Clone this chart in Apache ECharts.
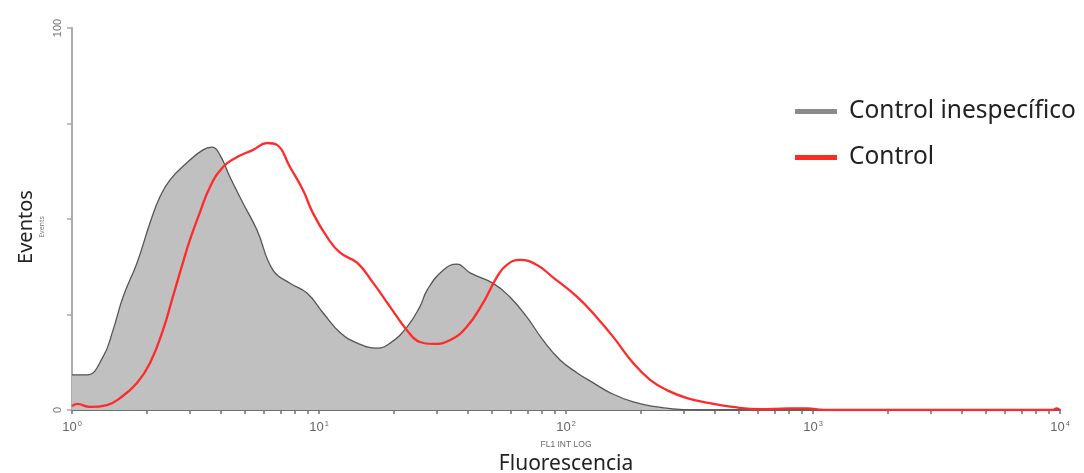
<!DOCTYPE html>
<html>
<head>
<meta charset="utf-8">
<script src="https://cdn.jsdelivr.net/npm/echarts@6/dist/echarts.min.js"></script>
<style>
  html, body { margin: 0; padding: 0; background: #fff; }
  #chart { width: 1084px; height: 473px; }
</style>
</head>
<body>
<div id="chart"></div>
<script>
// Fluorescence histogram (FL1, log scale) — events per channel
const seriesNames = ['Control inespecífico', 'Control'];

// Non-specific control: fluorescence values and event counts
const inespFluor = [1, 1.15, 1.335, 1.466, 1.609, 1.833, 2.07, 2.27, 2.49, 2.92, 3.39, 3.69, 3.97, 4.36, 4.92,
  5.61, 6.51, 7.63, 8.94, 10.4, 12.2, 14.3, 17.2, 19.4, 22.7, 25.6, 27.4, 31.8, 36.2, 40.9, 50.6, 59.3, 69.5,
  80.7, 94.6, 111, 129, 151, 187, 234, 298, 500, 1000, 10000];
const inespCounts = [9.2, 9.2, 13.9, 20.9, 29.6, 38.5, 49, 55.8, 60.2, 64.7, 68.1, 68.8, 66.8, 61, 54.2,
  47.1, 36.6, 33.2, 30.6, 25.4, 20.2, 17.5, 16.2, 17.5, 21.7, 27, 31.4, 36.6, 38.2, 35.9, 33.2, 29.6, 24.3,
  18.3, 13.1, 9.7, 7.1, 4.5, 2.1, 0.8, 0.1, 0, 0, 0];

// Control: fluorescence values and event counts
const ctrlFluor = [1, 1.048, 1.18, 1.386, 1.564, 1.833, 2.07, 2.335, 2.56, 2.81, 3.0, 3.29, 3.62, 4.09, 4.66,
  5.41, 6.16, 6.76, 7.63, 8.61, 9.44, 10.77, 12.2, 14.3, 16.6, 19.4, 22.7, 25.6, 29, 34, 39.6, 46.1, 52.5,
  57.6, 65.1, 76, 88.3, 111, 133, 155, 187, 219, 256, 309, 381, 472, 610, 800, 950, 1100, 2000, 5000,
  9300, 9700, 10000];
const ctrlCounts = [1, 1.6, 0.8, 1.3, 3.1, 7.1, 12.3, 20.9, 29.6, 38.5, 44.5, 51.6, 58.4, 63.6, 66.2,
  68.1, 69.9, 69.4, 63.6, 57.6, 51.6, 45.3, 41.1, 38.5, 33.2, 27, 20.9, 17.8, 17.3, 18.3, 21.7, 28, 34.8,
  38, 39.3, 38, 34.8, 29.6, 24.3, 19.2, 12.3, 7.9, 5.2, 3.1, 1.8, 0.8, 0.2, 0.4, 0.4, 0, 0, 0,
  0, 0.4, 0];

// Axis tick values
const xMajorTicks = [1, 10, 100, 1000, 10000];
const xMinorTicks = [];
xMajorTicks.slice(0, -1).forEach(d => { for (let m = 1; m <= 9; m++) xMinorTicks.push(m * d); });
xMinorTicks.push(10000);
const yTicks = [0, 25, 50, 75, 100];
const yLabels = [0, 100];

const pairs = (xs, ys) => xs.map((x, i) => [x, ys[i]]);

const chart = echarts.init(document.getElementById('chart'));
chart.setOption({
  animation: false,
  backgroundColor: '#fff',
  textStyle: { fontFamily: 'Noto Sans' },
  grid: { left: 72, right: 24, top: 28, bottom: 63, containLabel: false, outerBoundsMode: 'none' },
  legend: {
    orient: 'vertical',
    left: 790,
    top: 94,
    itemWidth: 42,
    itemHeight: 5,
    itemGap: 21,
    icon: 'rect',
    textStyle: { fontSize: 24.5, color: '#222', fontFamily: 'Noto Sans', padding: [0, 0, 0, 7] },
    data: [
      { name: seriesNames[0], itemStyle: { color: '#8a8a8a' } },
      { name: seriesNames[1], itemStyle: { color: '#ff2a1f' } }
    ]
  },
  xAxis: {
    type: 'log',
    logBase: 10,
    min: 1,
    max: 10000,
    name: '{a|FL1 INT LOG}\n{b|Fluorescencia}',
    nameLocation: 'middle',
    nameGap: 28,
    nameTextStyle: {
      rich: {
        a: { fontSize: 8.5, color: '#666', fontFamily: 'Liberation Sans', lineHeight: 13 },
        b: { fontSize: 21, color: '#222', fontFamily: 'Noto Sans', lineHeight: 26 }
      }
    },
    axisLine: { lineStyle: { color: '#707070', width: 2 } },
    axisTick: { show: true, length: 4, customValues: xMinorTicks, lineStyle: { color: '#707070', width: 1.5 } },
    axisLabel: {
      customValues: xMajorTicks,
      margin: 10,
      color: '#666',
      fontFamily: 'Liberation Sans',
      fontSize: 13,
      formatter: v => '10{s|' + Math.round(Math.log10(v)) + '}',
      rich: { s: { fontSize: 7.5, color: '#666', verticalAlign: 'top', padding: [0, 0, 7, 1] } }
    },
    splitLine: { show: false },
    minorTick: { show: false }
  },
  yAxis: {
    type: 'value',
    min: 0,
    max: 100,
    interval: 25,
    name: 'Eventos\n{s|Events}',
    nameLocation: 'middle',
    nameRotate: 90,
    nameGap: 24,
    nameMoveOverlap: false,
    nameTextStyle: {
      fontSize: 20,
      color: '#222',
      fontFamily: 'Noto Sans',
      lineHeight: 20,
      padding: [0, 16, 0, 0],
      rich: { s: { fontSize: 7, color: '#777', lineHeight: 12 } }
    },
    axisLine: { show: true, lineStyle: { color: '#ababab', width: 2 } },
    axisTick: { show: true, length: 5, customValues: yTicks, lineStyle: { color: '#ababab', width: 1.5 } },
    axisLabel: {
      customValues: yLabels,
      rotate: 90,
      margin: 9,
      color: '#777',
      fontSize: 11,
      fontFamily: 'Liberation Sans'
    },
    splitLine: { show: false }
  },
  series: [
    {
      name: seriesNames[0],
      type: 'line',
      smooth: 0.45,
      symbol: 'none',
      data: pairs(inespFluor, inespCounts),
      lineStyle: { color: '#555', width: 1.3 },
      itemStyle: { color: '#8a8a8a' },
      areaStyle: { color: '#c0c0c0', opacity: 1 },
      z: 2
    },
    {
      name: seriesNames[1],
      type: 'line',
      smooth: 0.45,
      symbol: 'none',
      data: pairs(ctrlFluor, ctrlCounts),
      lineStyle: { color: '#ff2a2a', width: 2.3 },
      itemStyle: { color: '#ff2a1f' },
      z: 3
    }
  ]
});
</script>
</body>
</html>
